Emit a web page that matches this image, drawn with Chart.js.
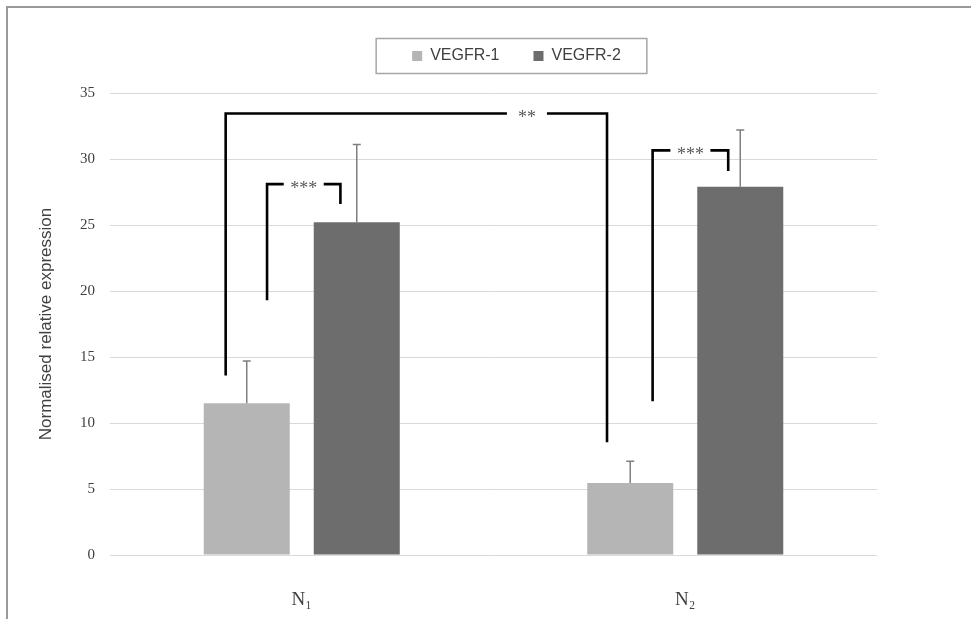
<!DOCTYPE html>
<html>
<head>
<meta charset="utf-8">
<script src="https://cdn.jsdelivr.net/npm/chart.js@4.4.1/dist/chart.umd.min.js"></script>
<style>
  body { margin: 0; background: #fff; overflow: hidden; }
  #wrap { position: relative; width: 971px; height: 619px; }
  #frame { position: absolute; left: 6px; top: 6px; width: 1000px; height: 700px;
           border-top: 2px solid #999; border-left: 2px solid #999; pointer-events: none; }
  canvas { position: absolute; left: 0; top: 0; }
</style>
</head>
<body>
<div id="wrap">
  <canvas id="chart" width="971" height="619"></canvas>
  <div id="frame"></div>
</div>
<script>
// --- data ---
const categories = ["N\u2081", "N\u2082"];
const seriesNames = ["VEGFR-1", "VEGFR-2"];
const vegfr1 = [11.5, 5.45];
const vegfr2 = [25.2, 27.9];
const vegfr1Err = [3.2, 1.65];
const vegfr2Err = [5.9, 4.3];
const yMin = 0, yMax = 35, yStep = 5;

// significance brackets: from [dataset, index] to [dataset, index], heights in data units
const brackets = [
  { text: "**",  from: [0, 0], to: [0, 1], yLeft: 13.6,  yTop: 33.45, yRight: 8.55 },
  { text: "***", from: [0, 0], to: [1, 0], yLeft: 19.3,  yTop: 28.1,  yRight: 26.6 },
  { text: "***", from: [0, 1], to: [1, 1], yLeft: 11.65, yTop: 30.65, yRight: 29.1 },
];
// layout of the brackets (fractions of bar width, and text position along the top)
const bracketDx = [[-0.245, -0.27], [0.236, -0.19], [0.26, -0.14]];
const bracketTextAt = [0.79, 0.5, 0.5];

const colors = ["#b5b5b5", "#6d6d6d"];
const legendShift = 73;

const overlay = {
  id: "overlay",
  afterLayout(chart) {
    // legend box sits a bit right of centre in the original
    chart.legend.left += legendShift;
    chart.legend.right += legendShift;
  },
  afterDatasetsDraw(chart) {
    const ctx = chart.ctx;
    const ys = chart.scales.y;
    ctx.save();
    // error bars (upper only)
    [vegfr1Err, vegfr2Err].forEach((errs, di) => {
      const meta = chart.getDatasetMeta(di);
      meta.data.forEach((bar, i) => {
        const v = chart.data.datasets[di].data[i];
        const yt = ys.getPixelForValue(v + errs[i]);
        ctx.strokeStyle = "#7f7f7f";
        ctx.lineWidth = 1.5;
        ctx.beginPath();
        ctx.moveTo(bar.x, bar.y);
        ctx.lineTo(bar.x, yt);
        ctx.moveTo(bar.x - 4, yt);
        ctx.lineTo(bar.x + 4, yt);
        ctx.stroke();
      });
    });
    // brackets
    ctx.font = "18px 'Liberation Serif'";
    ctx.textAlign = "center";
    ctx.textBaseline = "alphabetic";
    brackets.forEach((b, k) => {
      const b1 = chart.getDatasetMeta(b.from[0]).data[b.from[1]];
      const b2 = chart.getDatasetMeta(b.to[0]).data[b.to[1]];
      const x1 = b1.x + bracketDx[k][0] * b1.width;
      const x2 = b2.x + bracketDx[k][1] * b2.width;
      const yt = ys.getPixelForValue(b.yTop);
      const tx = x1 + (x2 - x1) * bracketTextAt[k];
      const gap = 20;
      ctx.strokeStyle = "#000";
      ctx.lineWidth = 2.6;
      ctx.lineJoin = "miter";
      ctx.beginPath();
      ctx.moveTo(x1, ys.getPixelForValue(b.yLeft));
      ctx.lineTo(x1, yt);
      ctx.lineTo(tx - gap, yt);
      ctx.moveTo(tx + gap, yt);
      ctx.lineTo(x2, yt);
      ctx.lineTo(x2, ys.getPixelForValue(b.yRight));
      ctx.stroke();
      ctx.fillStyle = "#595959";
      ctx.fillText(b.text, tx, yt + 10);
    });
    ctx.restore();
  },
  afterDraw(chart) {
    const boxes = chart.legend.legendHitBoxes;
    if (!boxes || !boxes.length) return;
    const first = boxes[0], last = boxes[boxes.length - 1];
    const cy = first.top + first.height / 2;
    const ctx = chart.ctx;
    ctx.save();
    ctx.strokeStyle = "#a6a6a6";
    ctx.lineWidth = 1.5;
    ctx.strokeRect(first.left - 36, cy - 17.5, last.left + last.width + 26 - (first.left - 36), 35);
    ctx.restore();
  }
};

new Chart(document.getElementById("chart"), {
  type: "bar",
  data: {
    labels: categories,
    datasets: [
      { label: seriesNames[0], data: vegfr1, backgroundColor: colors[0], borderWidth: 0,
        categoryPercentage: 0.5737, barPercentage: 0.782 },
      { label: seriesNames[1], data: vegfr2, backgroundColor: colors[1], borderWidth: 0,
        categoryPercentage: 0.5737, barPercentage: 0.782 },
    ],
  },
  options: {
    responsive: false,
    animation: false,
    layout: { padding: { top: 14, left: 10, right: 94, bottom: 0 } },
    plugins: {
      tooltip: { enabled: false },
      legend: {
        position: "top",
        labels: {
          font: { family: "'Liberation Sans'", size: 16 },
          color: "#404040",
          boxWidth: 10,
          boxHeight: 10,
          padding: 34,
        },
      },
      // spacer between legend and plot
      subtitle: { display: true, text: "", weight: 0, padding: 0,
                  font: { size: 10, lineHeight: 1.9 } },
    },
    scales: {
      x: {
        grid: { display: false },
        border: { display: false },
        ticks: { font: { family: "'Liberation Serif'", size: 19 }, color: "#404040", padding: 26 },
        afterFit(s) { s.height = 64; },
      },
      y: {
        min: yMin,
        max: yMax,
        ticks: { stepSize: yStep, font: { family: "'Liberation Serif'", size: 15 }, color: "#404040", padding: 15 },
        grid: { color: "#d9d9d9", lineWidth: 1, drawTicks: false },
        border: { display: false },
        title: {
          display: true,
          text: "Normalised relative expression",
          font: { family: "'Liberation Sans'", size: 17 },
          color: "#404040",
          padding: { top: 26, bottom: 0 },
        },
        afterFit(s) { s.width = 100; },
      },
    },
  },
  plugins: [overlay],
});
</script>
</body>
</html>
